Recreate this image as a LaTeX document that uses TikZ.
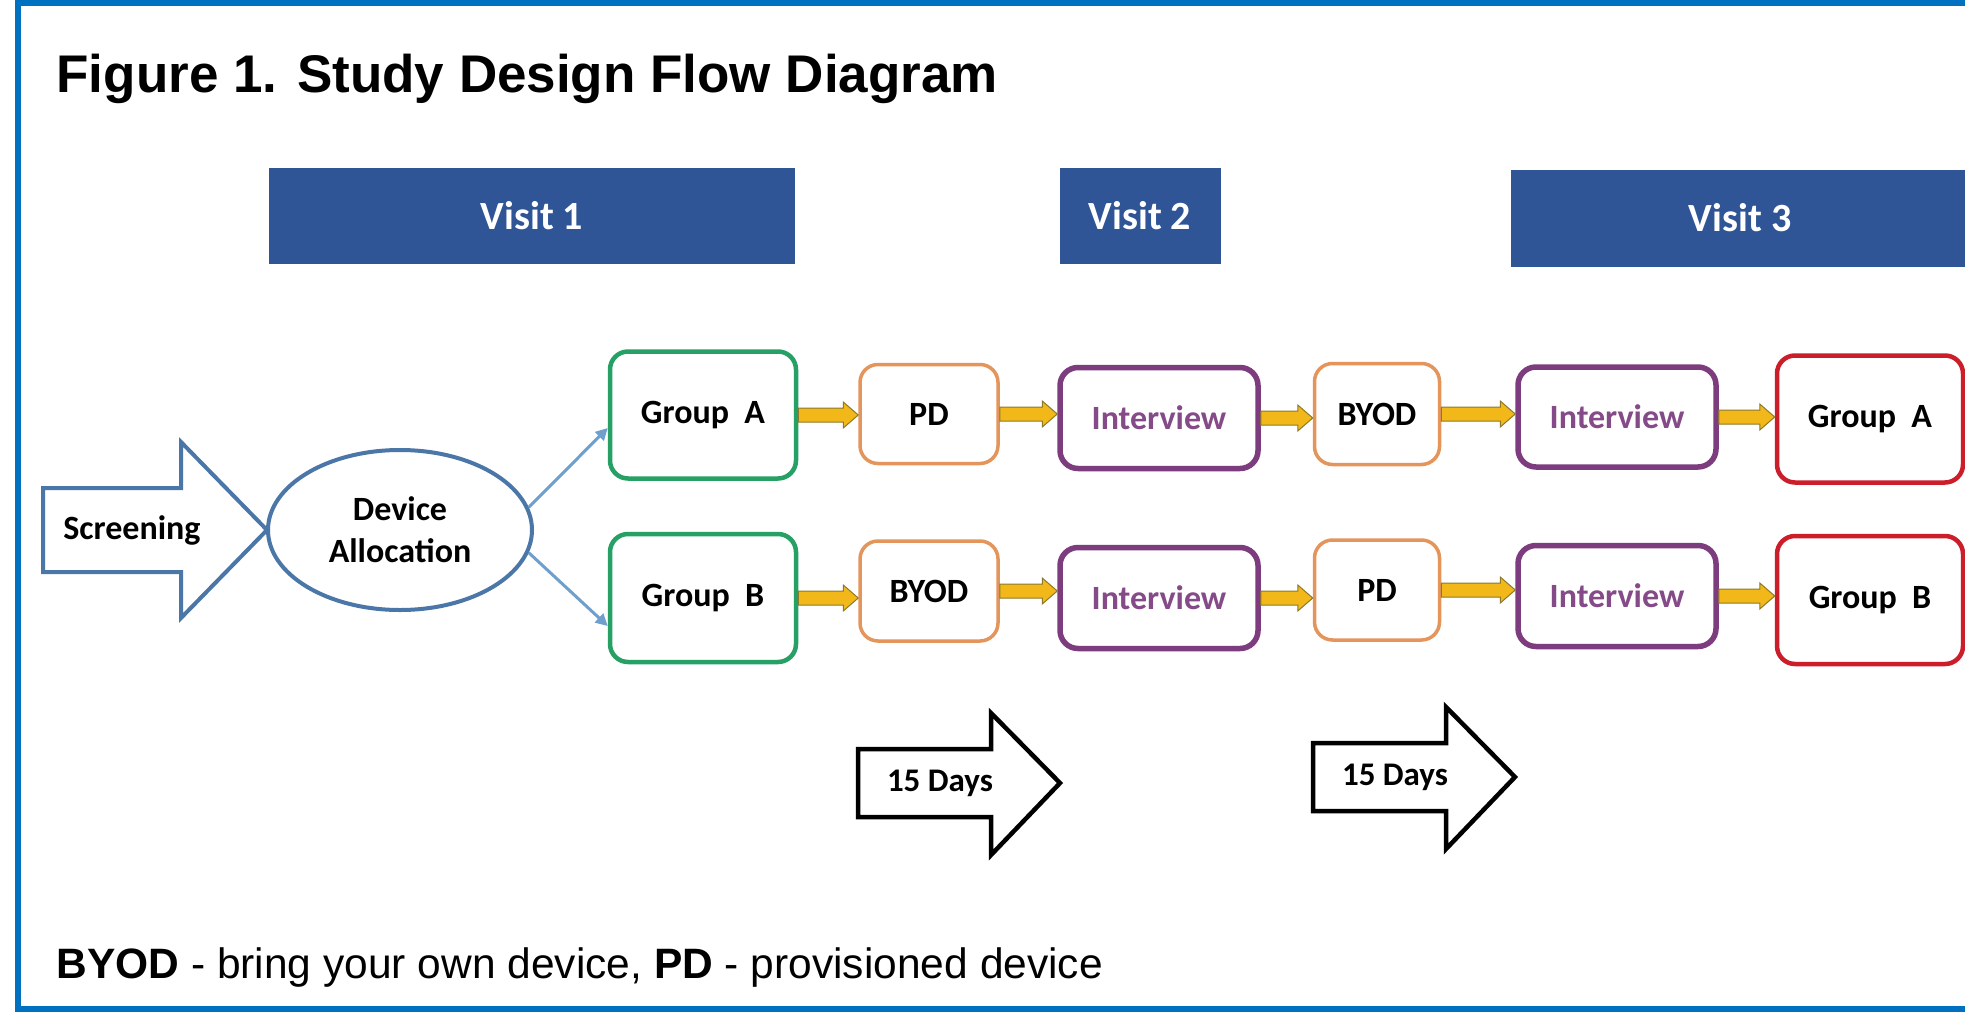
\documentclass[tikz,border=0pt]{standalone}
\usepackage{fontspec}
\setmainfont{Liberation Sans}
\newfontfamily\boxfont{Carlito}
\usetikzlibrary{shapes.geometric,arrows.meta,calc}
\definecolor{bordercol}{HTML}{0070C0}
\definecolor{visitfill}{HTML}{2F5597}
\definecolor{steel}{HTML}{4A76A8}
\definecolor{bconncol}{HTML}{6F9FCC}
\definecolor{grp}{HTML}{27A066}
\definecolor{orng}{HTML}{E3955C}
\definecolor{purp}{HTML}{7D3C7E}
\definecolor{purptext}{HTML}{854A88}
\definecolor{redc}{HTML}{CC1E2A}
\definecolor{gold}{HTML}{F2B81A}
\definecolor{goldedge}{HTML}{8C7A2A}
\tikzset{
  lbl/.style={font=\boxfont\bfseries\fontsize{34}{42}\selectfont, text=black, align=center},
  visit/.style={fill=visitfill, draw=none, inner sep=0pt, text=white, font=\boxfont\bfseries\fontsize{40}{46}\selectfont},
  gbox/.style={lbl, draw=grp, line width=4.5pt, rounded corners=18pt, fill=white, inner sep=0pt},
  obox/.style={lbl, draw=orng, line width=3.5pt, rounded corners=18pt, fill=white, inner sep=0pt},
  pbox/.style={lbl, draw=purp, line width=5.5pt, rounded corners=18pt, fill=white, inner sep=0pt, text=purptext},
  rbox/.style={lbl, draw=redc, line width=4.5pt, rounded corners=18pt, fill=white, inner sep=0pt},
  yconn/.style={fill=gold, draw=goldedge, line width=1pt, to path={
    let \p1=(\tikztostart), \p2=(\tikztotarget) in
    (\x1,\y1+7pt) -- (\x2-15pt,\y1+7pt) -- (\x2-15pt,\y1+13pt) -- (\x2,\y1)
    -- (\x2-15pt,\y1-13pt) -- (\x2-15pt,\y1-7pt) -- (\x1,\y1-7pt) -- cycle}},
  bconn/.style={draw=bconncol, line width=3pt, -{Triangle[length=12pt,width=12pt]}},
  dayarrow/.style={draw=black, line width=4.5pt, fill=white, line join=miter},
}
\begin{document}
\begin{tikzpicture}[x=1pt,y=-1pt]
\useasboundingbox (0,0) rectangle (1965,1012);
\fill[white] (0,0) rectangle (1965,1012);
\clip (0,0) rectangle (1965,1012);
\draw[bordercol, line width=6pt] (18,3) rectangle (2010,1009);

% title and footer
\node[anchor=base west, font=\bfseries\fontsize{53}{60}\selectfont] (title) at (53,92) {Figure 1. Study Design Flow Diagram};
\node[anchor=base west, font=\fontsize{42.5}{48}\selectfont] (foot) at (53,978) {\textbf{BYOD} - bring your own device, \textbf{PD} - provisioned device};

% visit headers
\node[visit, minimum width=526pt, minimum height=96pt] (v1) at (532,216) {Visit 1};
\node[visit, minimum width=161pt, minimum height=96pt] (v2) at (1140,216) {Visit 2};
\node[visit, minimum width=459pt, minimum height=97pt] (v3) at (1740,218) {Visit 3};

% screening arrow
\draw[steel, line width=4pt, fill=white, line join=miter]
  (43,488) -- (181,488) -- (181,442) -- (267,530) -- (181,618) -- (181,572) -- (43,572) -- cycle;
\node[lbl] (scr) at (132,530) {Screening};

% device allocation
\node[ellipse, draw=steel, line width=4pt, fill=white, minimum width=264pt, minimum height=160pt, inner sep=0pt,
  lbl] (dev) at (400,530) {Device\\Allocation};

% row A
\node[gbox, minimum width=186pt, minimum height=127pt] (ga) at (703,415) {Group~ A};
\node[obox, minimum width=138pt, minimum height=99pt] (pda) at (929,414) {PD};
\node[pbox, minimum width=198pt, minimum height=101pt] (ia1) at (1159,418) {Interview};
\node[obox, minimum width=125pt, minimum height=101pt] (bya) at (1377,414) {BYOD};
\node[pbox, minimum width=198pt, minimum height=100pt] (ia2) at (1617,417) {Interview};
\node[rbox, minimum width=186pt, minimum height=127pt] (ra) at (1870,419) {Group~ A};

% row B
\node[gbox, minimum width=186pt, minimum height=128pt] (gb) at (703,598) {Group~ B};
\node[obox, minimum width=138pt, minimum height=100pt] (byb) at (929,591) {BYOD};
\node[pbox, minimum width=198pt, minimum height=101pt] (ib1) at (1159,598) {Interview};
\node[obox, minimum width=125pt, minimum height=100pt] (pdb) at (1377,590) {PD};
\node[pbox, minimum width=198pt, minimum height=101pt] (ib2) at (1617,596) {Interview};
\node[rbox, minimum width=186pt, minimum height=128pt] (rb) at (1870,600) {Group~ B};

% connectors
\draw[bconn] (dev.10) -- ($(ga.west)+(0,13)$);
\draw[bconn] (dev.-10) -- ($(gb.west)+(0,28)$);
\foreach \s/\t in {ga/pda, pda/ia1, ia1/bya, bya/ia2, ia2/ra, gb/byb, byb/ib1, ib1/pdb, pdb/ib2, ib2/rb}
  \path[yconn] (\s.east) to (\t.west);

% 15 days arrows
\draw[dayarrow] (858,749) -- (991,749) -- (991,713) -- (1060,783) -- (991,855) -- (991,817) -- (858,817) -- cycle;
\node[lbl, font=\boxfont\bfseries\fontsize{33}{40}\selectfont] (d1) at (940,783) {15 Days};
\draw[dayarrow] (1313,743) -- (1446,743) -- (1446,707) -- (1515,777) -- (1446,849) -- (1446,811) -- (1313,811) -- cycle;
\node[lbl, font=\boxfont\bfseries\fontsize{33}{40}\selectfont] (d2) at (1395,777) {15 Days};
\end{tikzpicture}
\end{document}
